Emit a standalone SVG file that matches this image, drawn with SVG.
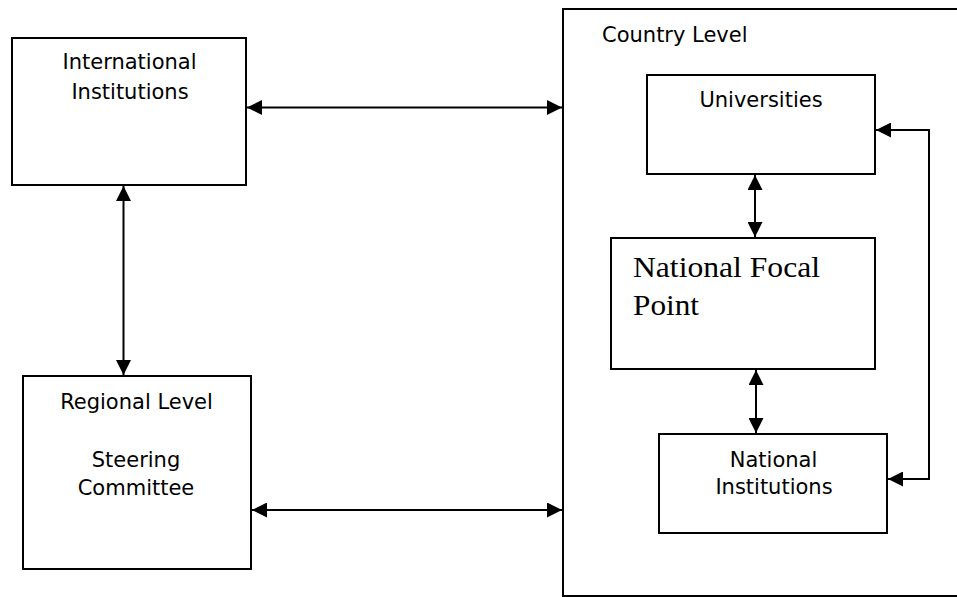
<svg xmlns="http://www.w3.org/2000/svg" width="957" height="597" viewBox="0 0 957 597">
<defs>
<style>
.box{fill:#fff;stroke:#000;stroke-width:2}
.frame{fill:none;stroke:#000;stroke-width:2}
.lbl{font-family:"DejaVu Sans","Liberation Sans",sans-serif;font-size:21px;fill:#000}
.mid{text-anchor:middle}
.big{font-family:"Liberation Serif","Times New Roman",serif;font-size:30px;fill:#000}
.con{fill:none;stroke:#000;stroke-width:2}
</style>
<marker id="ah" viewBox="0 0 15 15" refX="15" refY="7.5" markerWidth="15" markerHeight="15" markerUnits="userSpaceOnUse" orient="auto-start-reverse">
<path d="M0,0 L15,7.5 L0,15 Z" fill="#000"/>
</marker>
</defs>
<rect width="957" height="597" fill="#fff"/>
<g id="country">
<rect class="frame" x="563" y="9" width="420" height="587"/>
<text class="lbl" x="602" y="42">Country Level</text>
</g>
<g id="international">
<rect class="box" x="12" y="38" width="234" height="147"/>
<text class="lbl mid" x="129.5" y="69">International</text>
<text class="lbl mid" x="130" y="99">Institutions</text>
</g>
<g id="regional">
<rect class="box" x="23" y="376" width="228" height="193"/>
<text class="lbl mid" x="136.5" y="409">Regional Level</text>
<text class="lbl mid" x="136" y="467">Steering</text>
<text class="lbl mid" x="136" y="495">Committee</text>
</g>
<g id="universities">
<rect class="box" x="647" y="75" width="228" height="99"/>
<text class="lbl mid" x="761" y="107">Universities</text>
</g>
<g id="focal">
<rect class="box" x="611" y="238" width="264" height="131"/>
<text class="big" x="633" y="277" textLength="187" lengthAdjust="spacingAndGlyphs">National Focal</text>
<text class="big" x="633" y="315" textLength="66" lengthAdjust="spacingAndGlyphs">Point</text>
</g>
<g id="national">
<rect class="box" x="659" y="434" width="228" height="99"/>
<text class="lbl mid" x="773.5" y="467">National</text>
<text class="lbl mid" x="774" y="494">Institutions</text>
</g>
<g id="connectors">
<line class="con" x1="247" y1="107.5" x2="562" y2="107.5" marker-start="url(#ah)" marker-end="url(#ah)"/>
<line class="con" x1="123.5" y1="186" x2="123.5" y2="375" marker-start="url(#ah)" marker-end="url(#ah)"/>
<line class="con" x1="252" y1="510" x2="562" y2="510" marker-start="url(#ah)" marker-end="url(#ah)"/>
<line class="con" x1="755" y1="175" x2="755" y2="237" marker-start="url(#ah)" marker-end="url(#ah)"/>
<line class="con" x1="756" y1="370" x2="756" y2="433" marker-start="url(#ah)" marker-end="url(#ah)"/>
<path class="con" d="M876,130 H929 V479 H888" marker-start="url(#ah)" marker-end="url(#ah)"/>
</g>
</svg>
